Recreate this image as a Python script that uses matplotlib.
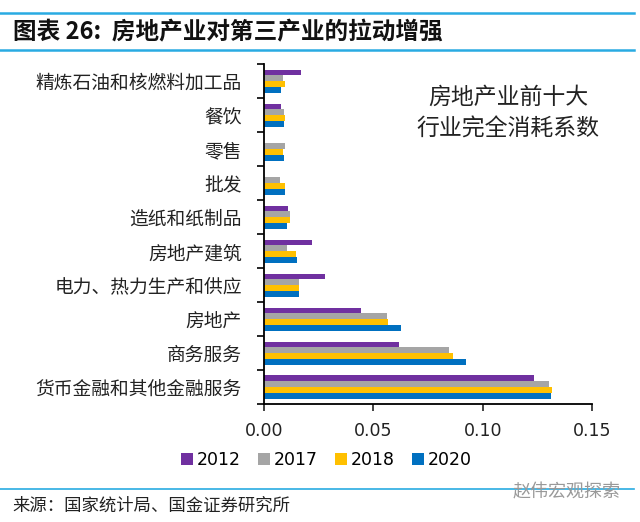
import numpy as np
import matplotlib.pyplot as plt
from matplotlib.lines import Line2D

plt.rcParams['font.family'] = ['Noto Sans CJK SC', 'DejaVu Sans']

# categories listed top to bottom
categories = ['精炼石油和核燃料加工品', '餐饮', '零售', '批发', '造纸和纸制品',
              '房地产建筑', '电力、热力生产和供应', '房地产', '商务服务',
              '货币金融和其他金融服务']
years = ['2012', '2017', '2018', '2020']
v2012 = [0.0167, 0.0079, 0.0, 0.0, 0.0109, 0.0219, 0.0278, 0.0443, 0.0619, 0.1234]
v2017 = [0.0086, 0.0091, 0.0095, 0.0071, 0.0121, 0.0104, 0.0159, 0.0564, 0.0845, 0.1303]
v2018 = [0.0095, 0.0094, 0.0088, 0.0094, 0.0117, 0.0147, 0.0159, 0.0567, 0.0865, 0.1315]
v2020 = [0.0080, 0.0091, 0.0091, 0.0097, 0.0104, 0.0152, 0.0159, 0.0628, 0.0926, 0.1312]
colors = ['#7030A0', '#A5A5A5', '#FFC000', '#0070C0']

fig = plt.figure(figsize=(6.4, 5.22), dpi=100)
ax = fig.add_axes([0.4125, 0.226, 0.5125, 0.651])

n = len(categories)
pos = np.arange(n)  # 0 = top group
bh = 0.17
series = [v2012, v2017, v2018, v2020]
for i, (vals, c, y) in enumerate(zip(series, colors, years)):
    offs = (i - 1.5) * bh
    ax.barh(pos + offs, vals, height=bh, color=c, label=y)

ax.set_ylim(n - 0.5, -0.5)
ax.set_xlim(0, 0.15)
ax.set_xticks([0, 0.05, 0.10, 0.15])
ax.set_xticklabels(['0.00', '0.05', '0.10', '0.15'], fontsize=12.5, family='DejaVu Sans')
ax.set_yticks(np.arange(n + 1) - 0.5)
ax.set_yticklabels([])
ax.set_yticks(pos, minor=True)
ax.set_yticklabels(categories, minor=True, fontsize=13.5, color='#222222')
ax.tick_params(axis='y', which='minor', length=0, pad=16)
ax.tick_params(axis='y', which='major', length=5, width=1.2, direction='out')
ax.tick_params(axis='x', length=5, width=1.2, direction='out', pad=8, colors='#222222')
for s in ['top', 'right']:
    ax.spines[s].set_visible(False)
for s in ['left', 'bottom']:
    ax.spines[s].set_linewidth(1.3)

ax.text(0.745, 0.935, '房地产业前十大\n行业完全消耗系数', transform=ax.transAxes,
        ha='center', va='top', fontsize=16.5, linespacing=1.45, color='#222222')

leg = fig.legend(loc='center', bbox_to_anchor=(0.51, 0.118), ncol=4, frameon=False,
                 handlelength=0.7, handleheight=0.7, handletextpad=0.2,
                 columnspacing=1.0, prop={'family': 'DejaVu Sans', 'size': 12.5})

# header and footer
line_c = '#29ABE2'
fig.add_artist(Line2D([0.0, 0.99], [1 - 13 / 522, 1 - 13 / 522], color=line_c, lw=1.8))
fig.add_artist(Line2D([0.0, 0.99], [1 - 50 / 522, 1 - 50 / 522], color=line_c, lw=1.8))
fig.text(0.02, 1 - 32 / 522, '图表 26:  房地产业对第三产业的拉动增强', fontsize=17,
         fontstyle='italic', fontweight='bold', va='center', ha='left', color='#111111')
fig.add_artist(Line2D([0.0, 0.99], [1 - 489 / 522, 1 - 489 / 522], color=line_c, lw=1.2))
fig.text(0.02, 1 - 506 / 522, '来源：国家统计局、国金证券研究所', fontsize=12.5,
         va='center', ha='left', color='#222222')
fig.text(0.97, 1 - 492 / 522, '赵伟宏观探索', fontsize=13, va='center', ha='right',
         color='#999999')

fig.savefig('out.png', dpi=100)
